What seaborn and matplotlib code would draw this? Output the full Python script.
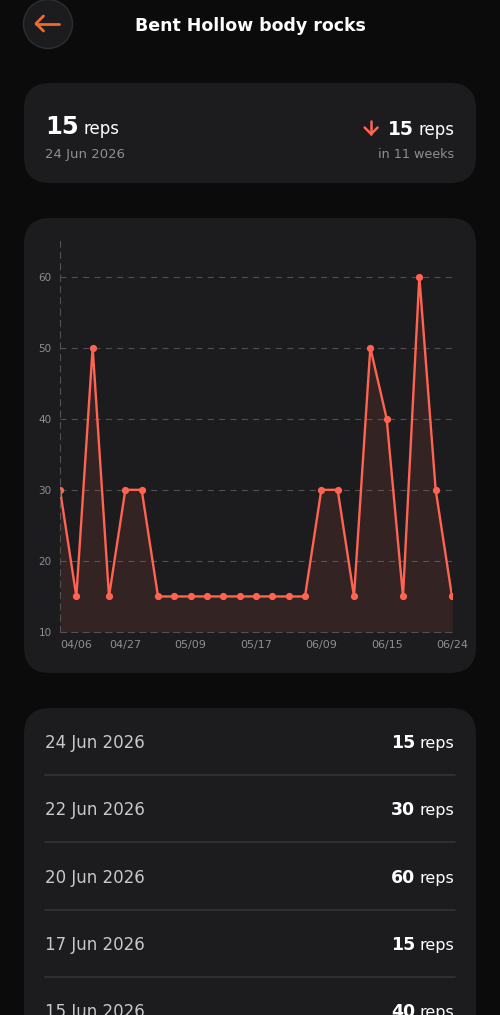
import matplotlib
matplotlib.use('Agg')
import matplotlib.pyplot as plt
import seaborn as sns
import pandas as pd
from matplotlib.patches import FancyBboxPatch, Circle

# data
title = 'Bent Hollow body rocks'
dates = ['04/03', '04/06', '04/13', '04/20', '04/27', '05/01', '05/03', '05/06', '05/09',
         '05/11', '05/13', '05/15', '05/17', '05/20', '05/27', '06/03', '06/09', '06/10',
         '06/11', '06/13', '06/15', '06/17', '06/20', '06/22', '06/24']
reps = [30, 15, 50, 15, 30, 30, 15, 15, 15, 15, 15, 15, 15, 15, 15, 15,
        30, 30, 15, 50, 40, 15, 60, 30, 15]
tick_idx = [1, 4, 8, 12, 16, 20, 24]
yticks = [10, 20, 30, 40, 50, 60]
latest = 15
latest_date = '24 Jun 2026'
change = 15
change_period = 'in 11 weeks'
history_dates = ['24 Jun 2026', '22 Jun 2026', '20 Jun 2026', '17 Jun 2026', '15 Jun 2026']
history_reps = [15, 30, 60, 15, 40]

BG = '#0b0b0b'
CARD = '#1c1c1e'
RED = '#ff6452'
ORANGE = '#f2692c'
GRAY = '#8e8e93'
GRID = '#505055'
DASH = (0, (5.4, 4.8))

sns.set_theme(style='dark')
plt.rcParams['font.family'] = ['DejaVu Sans']

W, H = 500, 1015
fig = plt.figure(figsize=(W / 100, H / 100), dpi=100, facecolor=BG)

# background layer in pixel coords
bg = fig.add_axes([0, 0, 1, 1], zorder=0)
bg.set_xlim(0, W)
bg.set_ylim(H, 0)
bg.axis('off')
bg.set_facecolor(BG)

def card(y0, y1):
    bg.add_patch(FancyBboxPatch((24, y0), 452, y1 - y0,
                                boxstyle='round,pad=0,rounding_size=26',
                                facecolor=CARD, edgecolor='none'))

card(83, 183)
card(218, 673)
card(708, 1100)

# header
bg.add_patch(Circle((48, 24), 24.5, facecolor=CARD, edgecolor='#2e2e31', linewidth=1))
bg.plot([36, 59], [23.5, 23.5], color=ORANGE, lw=2, solid_capstyle='round')
bg.plot([43.5, 36, 43.5], [16, 23.5, 31], color=ORANGE, lw=2,
        solid_capstyle='round', solid_joinstyle='round')
bg.text(250, 31, title, ha='center', va='baseline', color='white',
        fontsize=12.5, fontweight='bold')

r = fig.canvas.get_renderer()

def num_right(x_right, y, num, s_num, s_unit):
    t = bg.text(x_right, y, 'reps', ha='right', va='baseline', color='white', fontsize=s_unit)
    x0 = t.get_window_extent(r).x0
    n = bg.text(x0 - 4, y, str(num), ha='right', va='baseline', color='white',
                fontsize=s_num, fontweight='bold')
    return n.get_window_extent(r).x0

# summary card
t = bg.text(45, 134, str(latest), ha='left', va='baseline', color='white',
            fontsize=17.5, fontweight='bold')
x1 = t.get_window_extent(r).x1
bg.text(x1 + 5, 134, 'reps', ha='left', va='baseline', color='white', fontsize=12)
bg.text(45, 158, latest_date, ha='left', va='baseline', color=GRAY, fontsize=9.5)
nx = num_right(454, 135, change, 13.5, 12)
ax_ = nx - 17
bg.plot([ax_, ax_], [121, 134], color=RED, lw=1.8, solid_capstyle='round')
bg.plot([ax_ - 6.5, ax_, ax_ + 6.5], [127.5, 134, 127.5], color=RED, lw=1.8,
        solid_capstyle='round', solid_joinstyle='miter')
bg.text(454, 158, change_period, ha='right', va='baseline', color=GRAY, fontsize=9.2)

# history list
for k, (d, v) in enumerate(zip(history_dates, history_reps)):
    yb = 748 + k * 67.3
    bg.text(45, yb, d, ha='left', va='baseline', color='#c8c8cd', fontsize=12)
    num_right(454, yb, v, 12.5, 11.5)
    if k < len(history_dates) - 1:
        bg.plot([45, 455], [yb + 27, yb + 27], color='#333336', lw=1.2)

# chart
ax = fig.add_axes([60 / W, 1 - 632 / H, 392 / W, 391 / H], zorder=1)
ax.set_facecolor('none')
df = pd.DataFrame({'i': range(len(reps)), 'reps': reps})
ax.fill_between(df['i'], df['reps'], 10, color=RED, alpha=0.1, linewidth=0)
sns.lineplot(data=df, x='i', y='reps', ax=ax, color=RED, linewidth=1.7,
             marker='o', markersize=5.2, markeredgewidth=0,
             solid_joinstyle='miter', errorbar=None)
ax.set_xlim(0, len(reps) - 1)
ax.set_ylim(10, 65)
ax.set_yticks(yticks)
ax.set_xticks(tick_idx)
ax.set_xticklabels([dates[i] for i in tick_idx])
ax.set_xlabel('')
ax.set_ylabel('')
ax.grid(False)
for y in yticks[1:]:
    ax.axhline(y, color=GRID, lw=0.8, linestyle=DASH, zorder=0)
for s in ['top', 'right']:
    ax.spines[s].set_visible(False)
for s in ['left', 'bottom']:
    ax.spines[s].set_visible(True)
    ax.spines[s].set_color(GRID)
    ax.spines[s].set_linewidth(0.8)
    ax.spines[s].set_linestyle(DASH)
ax.tick_params(axis='y', length=0, pad=6, labelsize=7.5, labelcolor=GRAY)
ax.tick_params(axis='x', length=0, pad=6, labelsize=8, labelcolor=GRAY)

fig.savefig('out.png', dpi=100, facecolor=BG)
